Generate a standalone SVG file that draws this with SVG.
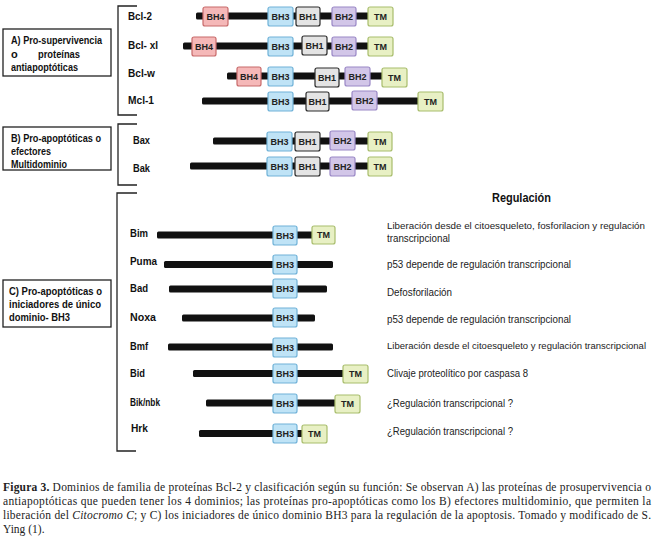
<svg xmlns="http://www.w3.org/2000/svg" width="656" height="541" viewBox="0 0 656 541">
<style>
.bar{fill:#111}
.d{stroke-width:1.2}
.bh4{fill:#f5b8b8;stroke:#c86a6a}
.bh3{fill:#bfe3f6;stroke:#70b2d8}
.bh1{fill:#e4e4e4;stroke:#2a2a2a}
.bh2{fill:#d2c6e8;stroke:#9a88c6}
.tm{fill:#e8f0c4;stroke:#a8bd6c}
.dt{font-family:"Liberation Sans",Arial,sans-serif;font-size:9px;font-weight:bold;fill:#222;text-anchor:middle}
.lb{font-family:"Liberation Sans",Arial,sans-serif;font-size:11px;font-weight:bold;fill:#111}
.bx{fill:#fff;stroke:#222;stroke-width:1.3}
.br{fill:none;stroke:#222;stroke-width:1.3}
.rg{font-family:"Liberation Sans",Arial,sans-serif;font-size:10px;fill:#222}
.rs{font-size:9px}
.cap{font-family:"Liberation Serif","Times New Roman",serif;font-size:11.5px;fill:#222}
</style>
<rect width="656" height="541" fill="#fff"/>

<g id="groupA">
<rect class="bx" x="3" y="29" width="108" height="47"/>
<text class="lb" x="11" y="44" textLength="91" lengthAdjust="spacingAndGlyphs">A) Pro-supervivencia</text>
<text class="lb" x="11" y="58">o</text>
<text class="lb" x="38" y="58" textLength="42" lengthAdjust="spacingAndGlyphs">proteínas</text>
<text class="lb" x="11" y="71" textLength="67" lengthAdjust="spacingAndGlyphs">antiapoptóticas</text>
<path class="br" d="M137,6 H118 V115 H137"/>
</g>
<g id="groupB">
<rect class="bx" x="3" y="127" width="108" height="43"/>
<text class="lb" x="11" y="142" textLength="90" lengthAdjust="spacingAndGlyphs">B) Pro-apoptóticas o</text>
<text class="lb" x="11" y="155" textLength="40" lengthAdjust="spacingAndGlyphs">efectores</text>
<text class="lb" x="11" y="168" textLength="56" lengthAdjust="spacingAndGlyphs">Multidominio</text>
<path class="br" d="M137,124 H118 V185 H137"/>
</g>
<g id="groupC">
<rect class="bx" x="3" y="280" width="108" height="47"/>
<text class="lb" x="9" y="295" textLength="93" lengthAdjust="spacingAndGlyphs">C) Pro-apoptóticas o</text>
<text class="lb" x="9" y="308" textLength="92" lengthAdjust="spacingAndGlyphs">iniciadores de único</text>
<text class="lb" x="9" y="321" textLength="61" lengthAdjust="spacingAndGlyphs">dominio- BH3</text>
<path class="br" d="M137,193 H117 V451 H136"/>
</g>

<g id="bcl2">
<text class="lb" x="128" y="20" textLength="24" lengthAdjust="spacingAndGlyphs">Bcl-2</text>
<rect class="bar" x="196" y="12.5" width="192" height="7" rx="1.5"/>
<rect class="d bh4" x="203" y="7" width="25" height="19" rx="2"/><text class="dt" x="215.5" y="19.5">BH4</text>
<rect class="d bh3" x="268" y="7" width="25" height="19" rx="2"/><text class="dt" x="280.5" y="19.5">BH3</text>
<rect class="d bh1" x="296" y="7" width="24" height="19" rx="2"/><text class="dt" x="308" y="19.5">BH1</text>
<rect class="d bh2" x="332" y="7" width="24" height="19" rx="2"/><text class="dt" x="344" y="19.5">BH2</text>
<rect class="d tm" x="368" y="7" width="25" height="19" rx="2"/><text class="dt" x="380.5" y="19.5">TM</text>
</g>
<g id="bclxl">
<text class="lb" x="128" y="49" textLength="30" lengthAdjust="spacingAndGlyphs">Bcl- xl</text>
<rect class="bar" x="183" y="42.5" width="205" height="7" rx="1.5"/>
<rect class="d bh4" x="192" y="37" width="24" height="19" rx="2"/><text class="dt" x="204" y="49.5">BH4</text>
<rect class="d bh3" x="268" y="37" width="25" height="19" rx="2"/><text class="dt" x="280.5" y="49.5">BH3</text>
<rect class="d bh1" x="302" y="36" width="25" height="19" rx="2"/><text class="dt" x="314.5" y="48.5">BH1</text>
<rect class="d bh2" x="332" y="37" width="24" height="19" rx="2"/><text class="dt" x="344" y="49.5">BH2</text>
<rect class="d tm" x="368" y="37" width="25" height="19" rx="2"/><text class="dt" x="380.5" y="49.5">TM</text>
</g>
<g id="bclw">
<text class="lb" x="128" y="77" textLength="27" lengthAdjust="spacingAndGlyphs">Bcl-w</text>
<rect class="bar" x="227" y="72.5" width="170" height="7" rx="1.5"/>
<rect class="d bh4" x="237" y="67" width="24" height="19" rx="2"/><text class="dt" x="249" y="79.5">BH4</text>
<rect class="d bh3" x="268" y="67" width="25" height="19" rx="2"/><text class="dt" x="280.5" y="79.5">BH3</text>
<rect class="d bh1" x="315" y="68" width="24" height="19" rx="2"/><text class="dt" x="327" y="80.5">BH1</text>
<rect class="d bh2" x="345" y="67" width="25" height="19" rx="2"/><text class="dt" x="357.5" y="79.5">BH2</text>
<rect class="d tm" x="382" y="68" width="25" height="19" rx="2"/><text class="dt" x="394.5" y="80.5">TM</text>
</g>
<g id="mcl1">
<text class="lb" x="128" y="104" textLength="26" lengthAdjust="spacingAndGlyphs">Mcl-1</text>
<rect class="bar" x="202" y="97.5" width="225" height="7" rx="1.5"/>
<rect class="d bh3" x="268" y="92" width="25" height="19" rx="2"/><text class="dt" x="280.5" y="104.5">BH3</text>
<rect class="d bh1" x="306" y="92" width="23" height="19" rx="2"/><text class="dt" x="317.5" y="104.5">BH1</text>
<rect class="d bh2" x="352" y="91" width="25" height="19" rx="2"/><text class="dt" x="364.5" y="103.5">BH2</text>
<rect class="d tm" x="418" y="92" width="25" height="19" rx="2"/><text class="dt" x="430.5" y="104.5">TM</text>
</g>
<g id="bax">
<text class="lb" x="133" y="144" textLength="17" lengthAdjust="spacingAndGlyphs">Bax</text>
<rect class="bar" x="213" y="137.5" width="172" height="7" rx="1.5"/>
<rect class="d bh3" x="267" y="132" width="25" height="19" rx="2"/><text class="dt" x="279.5" y="144.5">BH3</text>
<rect class="d bh1" x="295" y="132" width="25" height="19" rx="2"/><text class="dt" x="307.5" y="144.5">BH1</text>
<rect class="d bh2" x="330" y="131" width="25" height="19" rx="2"/><text class="dt" x="342.5" y="143.5">BH2</text>
<rect class="d tm" x="368" y="132" width="24" height="19" rx="2"/><text class="dt" x="380" y="144.5">TM</text>
</g>
<g id="bak">
<text class="lb" x="133" y="172" textLength="17" lengthAdjust="spacingAndGlyphs">Bak</text>
<rect class="bar" x="190" y="162.5" width="195" height="7" rx="1.5"/>
<rect class="d bh3" x="267" y="157" width="25" height="19" rx="2"/><text class="dt" x="279.5" y="169.5">BH3</text>
<rect class="d bh1" x="295" y="157" width="25" height="19" rx="2"/><text class="dt" x="307.5" y="169.5">BH1</text>
<rect class="d bh2" x="330" y="157" width="25" height="19" rx="2"/><text class="dt" x="342.5" y="169.5">BH2</text>
<rect class="d tm" x="368" y="157" width="24" height="19" rx="2"/><text class="dt" x="380" y="169.5">TM</text>
</g>

<g id="regulacion">
<text x="492" y="202" font-family="'Liberation Sans',Arial,sans-serif" font-size="12" font-weight="bold" fill="#111" textLength="59" lengthAdjust="spacingAndGlyphs">Regulación</text>
</g>

<g id="bim">
<text class="lb" x="130" y="237" textLength="18" lengthAdjust="spacingAndGlyphs">Bim</text>
<rect class="bar" x="157" y="231.5" width="158" height="7" rx="1.5"/>
<rect class="d bh3" x="273" y="226" width="24" height="19" rx="2"/><text class="dt" x="285" y="238.5">BH3</text>
<rect class="d tm" x="312" y="226" width="23" height="18" rx="2"/><text class="dt" x="323.5" y="238">TM</text>
<text class="rg rs" x="387" y="229" textLength="258" lengthAdjust="spacingAndGlyphs">Liberación desde el citoesqueleto, fosforilacion y regulación</text>
<text class="rg" x="387" y="242" textLength="63" lengthAdjust="spacingAndGlyphs">transcripcional</text>
</g>
<g id="puma">
<text class="lb" x="130" y="265" textLength="27" lengthAdjust="spacingAndGlyphs">Puma</text>
<rect class="bar" x="164" y="261" width="169" height="7" rx="1.5"/>
<rect class="d bh3" x="273" y="255" width="24" height="19" rx="2"/><text class="dt" x="285" y="267.5">BH3</text>
<text class="rg" x="387" y="268" textLength="184" lengthAdjust="spacingAndGlyphs">p53 depende de regulación transcripcional</text>
</g>
<g id="bad">
<text class="lb" x="130" y="292" textLength="18" lengthAdjust="spacingAndGlyphs">Bad</text>
<rect class="bar" x="169" y="285.5" width="158" height="7" rx="1.5"/>
<rect class="d bh3" x="273" y="279" width="24" height="19" rx="2"/><text class="dt" x="285" y="291.5">BH3</text>
<text class="rg" x="387" y="296" textLength="65" lengthAdjust="spacingAndGlyphs">Defosforilación</text>
</g>
<g id="noxa">
<text class="lb" x="130" y="321" textLength="26" lengthAdjust="spacingAndGlyphs">Noxa</text>
<rect class="bar" x="182" y="314.5" width="133" height="7" rx="1.5"/>
<rect class="d bh3" x="273" y="308" width="24" height="19" rx="2"/><text class="dt" x="285" y="320.5">BH3</text>
<text class="rg" x="387" y="323" textLength="184" lengthAdjust="spacingAndGlyphs">p53 depende de regulación transcripcional</text>
</g>
<g id="bmf">
<text class="lb" x="130" y="350" textLength="18" lengthAdjust="spacingAndGlyphs">Bmf</text>
<rect class="bar" x="168" y="343.5" width="165" height="7" rx="1.5"/>
<rect class="d bh3" x="273" y="338" width="24" height="19" rx="2"/><text class="dt" x="285" y="350.5">BH3</text>
<text class="rg rs" x="387" y="349" textLength="259" lengthAdjust="spacingAndGlyphs">Liberación desde el citoesqueleto y regulación transcripcional</text>
</g>
<g id="bid">
<text class="lb" x="130" y="377" textLength="15" lengthAdjust="spacingAndGlyphs">Bid</text>
<rect class="bar" x="193" y="370" width="152" height="7" rx="1.5"/>
<rect class="d bh3" x="273" y="364" width="24" height="19" rx="2"/><text class="dt" x="285" y="376.5">BH3</text>
<rect class="d tm" x="343" y="365" width="25" height="18" rx="2"/><text class="dt" x="355.5" y="377">TM</text>
<text class="rg" x="387" y="377" textLength="141" lengthAdjust="spacingAndGlyphs">Clivaje proteolítico por caspasa 8</text>
</g>
<g id="bik">
<text class="lb" x="130" y="406" textLength="30" lengthAdjust="spacingAndGlyphs">Bik/nbk</text>
<rect class="bar" x="206" y="399.5" width="132" height="7" rx="1.5"/>
<rect class="d bh3" x="273" y="394" width="24" height="19" rx="2"/><text class="dt" x="285" y="406.5">BH3</text>
<rect class="d tm" x="335" y="395" width="25" height="18" rx="2"/><text class="dt" x="347.5" y="407">TM</text>
<text class="rg" x="387" y="407" textLength="126" lengthAdjust="spacingAndGlyphs">¿Regulación transcripcional ?</text>
</g>
<g id="hrk">
<text class="lb" x="131" y="432" textLength="17" lengthAdjust="spacingAndGlyphs">Hrk</text>
<rect class="bar" x="199" y="430" width="105" height="7" rx="1.5"/>
<rect class="d bh3" x="273" y="424" width="24" height="19" rx="2"/><text class="dt" x="285" y="436.5">BH3</text>
<rect class="d tm" x="302" y="425" width="25" height="18" rx="2"/><text class="dt" x="314.5" y="437">TM</text>
<text class="rg" x="387" y="435" textLength="126" lengthAdjust="spacingAndGlyphs">¿Regulación transcripcional ?</text>
</g>

<g id="caption">
<text class="cap" x="3" y="491" textLength="648" lengthAdjust="spacing"><tspan font-weight="bold">Figura 3.</tspan> Dominios de familia de proteínas Bcl-2 y clasificación según su función: Se observan A) las proteínas de prosupervivencia o</text>
<text class="cap" x="3" y="505" textLength="648" lengthAdjust="spacing">antiapoptóticas que pueden tener los 4 dominios; las proteínas pro-apoptóticas como los B) efectores multidominio, que permiten la</text>
<text class="cap" x="3" y="519" textLength="648" lengthAdjust="spacing">liberación del <tspan font-style="italic">Citocromo C</tspan>; y C) los iniciadores de único dominio BH3 para la regulación de la apoptosis.  Tomado y modificado de S.</text>
<text class="cap" x="3" y="533">Ying (1).</text>
</g>
</svg>
